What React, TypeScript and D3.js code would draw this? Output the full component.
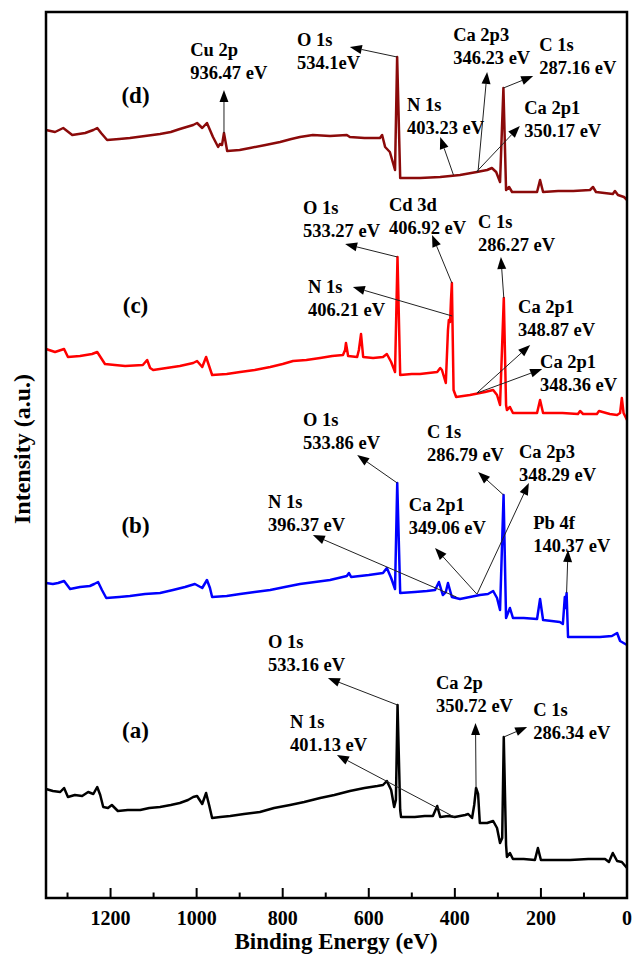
import React from "react";
import * as d3 from "d3";

// XPS survey spectra of four samples, stacked with vertical offsets.
const WIDTH = 634;
const HEIGHT = 955;
const PLOT = { left: 46, right: 627, top: 12, bottom: 898 };

const energyDomain: [number, number] = [1350, 0];
const intensityDomain: [number, number] = [0, 88.6];

const majorTicks = [1200, 1000, 800, 600, 400, 200, 0];
const minorTicks = [1300, 1100, 900, 700, 500, 300, 100];

type Pt = [number, number]; // [binding energy (eV), intensity (a.u., offset)]

const spectrumA: Pt[] = [
  [1350, 10.9], [1334, 10.7], [1317, 10.6], [1308, 11.0], [1299, 10.1], [1283, 10.3],
  [1266, 10.2], [1252, 10.6], [1240, 10.4], [1231, 11.1], [1224, 10.3], [1217, 9.1],
  [1206, 9.0], [1197, 9.3], [1183, 8.7], [1160, 8.8], [1131, 8.8], [1110, 9.0],
  [1085, 9.1], [1060, 9.3], [1039, 9.5], [1020, 9.8], [1008, 10.1], [999, 10.2],
  [987, 9.4], [978, 10.5], [971, 9.3], [964, 8.0], [945, 8.1], [922, 8.2], [890, 8.4],
  [853, 8.6], [820, 9.0], [783, 9.3], [750, 9.6], [713, 10.0], [680, 10.3], [644, 10.7],
  [610, 11.0], [580, 11.2], [567, 11.3], [558, 11.7], [548, 10.8], [541, 9.1],
  [537, 9.8], [533.16, 19.3], [527, 8.8], [525, 8.1], [493, 8.1], [470, 8.2],
  [451, 8.2], [441, 9.2], [434, 8.1], [415, 8.2], [400, 8.1], [376, 8.3], [369, 8.4],
  [360, 8.0], [355, 9.3], [350.72, 11.0], [346, 10.4], [342, 7.5], [325, 7.5],
  [311, 7.7], [302, 7.0], [295, 5.5], [290, 6.0], [286.34, 16.1], [281, 5.3],
  [279, 4.1], [272, 4.5], [265, 3.9], [240, 3.9], [214, 3.8], [207, 5.0], [200, 3.8],
  [170, 3.8], [132, 3.8], [90, 3.9], [51, 3.9], [42, 3.6], [33, 4.5], [23, 3.7],
  [12, 3.6], [0, 3.0],
];

const spectrumB: Pt[] = [
  [1350, 31.5], [1334, 31.4], [1322, 31.5], [1308, 31.7], [1294, 30.9], [1271, 31.1],
  [1248, 31.2], [1238, 31.4], [1229, 31.6], [1220, 30.8], [1210, 30.0], [1180, 30.1],
  [1155, 30.2], [1120, 30.4], [1085, 30.5], [1055, 30.8], [1027, 31.1], [1004, 31.4],
  [987, 31.0], [976, 31.8], [969, 31.0], [964, 30.1], [930, 30.2], [899, 30.4],
  [865, 30.6], [829, 30.8], [795, 31.1], [760, 31.4], [725, 31.6], [690, 31.8],
  [651, 32.2], [646, 32.5], [641, 32.1], [600, 32.3], [567, 32.5], [558, 33.0],
  [548, 32.0], [539, 30.9], [533.86, 41.5], [527, 30.5], [493, 30.6], [465, 30.7],
  [446, 30.8], [437, 31.6], [428, 30.3], [421, 30.6], [416, 31.5], [407, 30.1],
  [388, 29.9], [365, 30.1], [342, 30.3], [323, 30.4], [311, 30.7], [302, 30.0],
  [295, 28.8], [286.79, 40.3], [281, 28.0], [272, 29.0], [265, 28.0], [240, 28.0],
  [209, 27.9], [202, 29.9], [195, 27.8], [175, 27.7], [156, 27.6], [149, 27.4],
  [144.5, 30.1], [143, 29.0], [140.37, 30.5], [137, 26.1], [135, 26.1], [100, 26.1],
  [63, 26.1], [35, 26.2], [23, 26.5], [16, 25.7], [0, 25.3],
];

const spectrumC: Pt[] = [
  [1350, 54.9], [1329, 54.6], [1308, 54.9], [1299, 54.1], [1271, 54.2], [1243, 54.4],
  [1231, 54.6], [1222, 54.0], [1213, 53.4], [1190, 53.3], [1166, 53.2], [1125, 53.3],
  [1115, 53.8], [1108, 53.0], [1101, 52.8], [1070, 53.0], [1039, 53.2], [1008, 53.5],
  [999, 53.7], [987, 53.1], [978, 54.1], [971, 53.2], [964, 52.3], [930, 52.4],
  [899, 52.6], [865, 52.8], [829, 53.1], [800, 53.4], [776, 53.7], [745, 53.8],
  [713, 54.0], [685, 54.2], [660, 54.3], [655, 54.8], [653, 55.5], [648, 54.2],
  [627, 54.1], [623, 54.8], [618, 56.4], [613, 54.1], [590, 54.0], [567, 54.1],
  [558, 54.4], [548, 53.6], [539, 52.6], [533.27, 64.1], [527, 52.3], [500, 52.4],
  [481, 52.4], [441, 52.6], [434, 53.0], [430, 52.8], [421, 51.5], [416, 56.8],
  [414, 57.8], [411, 57.6], [409, 59.8], [406.92, 61.5], [403, 50.8], [397, 50.1],
  [365, 50.3], [330, 50.6], [311, 50.8], [302, 50.3], [295, 49.3], [286.27, 60.0],
  [281, 49.3], [279, 48.8], [272, 49.1], [265, 48.5], [240, 48.5], [209, 48.5],
  [202, 49.8], [195, 48.5], [150, 48.5], [114, 48.4], [109, 48.7], [102, 48.4],
  [70, 48.4], [65, 48.7], [40, 48.4], [23, 48.3], [16, 48.5], [12, 50.0], [8, 48.5],
  [0, 47.8],
];

const spectrumD: Pt[] = [
  [1350, 76.8], [1329, 76.6], [1310, 77.0], [1289, 76.3], [1259, 76.5], [1240, 76.8],
  [1231, 77.0], [1222, 76.5], [1208, 75.8], [1180, 75.9], [1155, 76.0], [1120, 76.2],
  [1085, 76.4], [1060, 76.6], [1039, 76.9], [1008, 77.3], [999, 77.5], [987, 77.0],
  [976, 77.5], [962, 76.1], [950, 75.1], [946, 75.4], [941, 75.3], [936.47, 76.5],
  [929, 74.7], [900, 74.8], [876, 75.0], [840, 75.3], [806, 75.6], [780, 75.9],
  [760, 76.1], [730, 76.3], [690, 76.2], [651, 76.3], [644, 76.1], [610, 76.0],
  [574, 76.0], [569, 76.3], [562, 75.1], [551, 74.6], [539, 72.8], [534.1, 84.1],
  [527, 72.0], [481, 72.0], [434, 72.1], [388, 72.3], [349, 72.6], [325, 72.8],
  [314, 73.0], [304, 72.6], [295, 71.6], [287.16, 81.0], [281, 70.8], [274, 71.1],
  [267, 70.6], [240, 70.6], [209, 70.6], [202, 71.8], [195, 70.6], [160, 70.7],
  [125, 70.7], [86, 70.8], [79, 71.1], [72, 70.6], [33, 70.4], [28, 70.7], [21, 70.3],
  [7, 70.1], [0, 69.8],
];

const spectra = [spectrumA, spectrumB, spectrumC, spectrumD];
const sampleNames = ["(a)", "(b)", "(c)", "(d)"];
const sampleColors = ["#000000", "#0000ff", "#ff0000", "#8b0a0a"];
// Where each sample tag sits, in [eV, a.u.]
const sampleTagAt: Pt[] = [[1142, 16.8], [1142, 37.3], [1142, 59.3], [1142, 80.3]];

// Peak assignments: label text, label anchor, arrow start on the spectrum, arrow tip.
type Peak = { name: string; energy: string; label: Pt; from: Pt; tip: Pt };

const peaksA: Peak[] = [
  { name: "O 1s", energy: "533.16 eV", label: [834, 25.6], from: [533.16, 19.3], tip: [695, 22.0] },
  { name: "N 1s", energy: "401.13 eV", label: [783, 17.6], from: [401.13, 8.1], tip: [674, 14.3] },
  { name: "Ca 2p", energy: "350.72 eV", label: [444, 21.5], from: [350.72, 11.0], tip: [352, 17.5] },
  { name: "C 1s", energy: "286.34 eV", label: [218, 18.8], from: [286.34, 16.1], tip: [232, 17.1] },
];

const peaksB: Peak[] = [
  { name: "O 1s", energy: "533.86 eV", label: [753, 47.8], from: [533.86, 41.5], tip: [627, 44.3] },
  { name: "N 1s", energy: "396.37 eV", label: [834, 39.6], from: [396.37, 30.1], tip: [730, 36.3] },
  { name: "Ca 2p1", energy: "349.06 eV", label: [507, 39.3], from: [349.06, 30.4], tip: [446, 35.0] },
  { name: "Ca 2p3", energy: "348.29 eV", label: [251, 44.6], from: [348.29, 30.4], tip: [228, 41.5] },
  { name: "C 1s", energy: "286.79 eV", label: [465, 46.6], from: [286.79, 40.3], tip: [346, 42.6] },
  { name: "Pb 4f", energy: "140.37 eV", label: [218, 37.5], from: [140.37, 30.5], tip: [137, 34.8] },
];

const peaksC: Peak[] = [
  { name: "O 1s", energy: "533.27 eV", label: [753, 69.0], from: [533.27, 64.1], tip: [655, 65.4] },
  { name: "Cd 3d", energy: "406.92 eV", label: [553, 69.3], from: [406.92, 61.5], tip: [453, 66.3] },
  { name: "N 1s", energy: "406.21 eV", label: [741, 61.1], from: [406.21, 58.2], tip: [637, 61.1] },
  { name: "C 1s", energy: "286.27 eV", label: [346, 67.6], from: [286.27, 60.0], tip: [293, 64.1] },
  { name: "Ca 2p1", energy: "348.87 eV", label: [253, 59.1], from: [348.87, 50.5], tip: [225, 55.3] },
  { name: "Ca 2p1", energy: "348.36 eV", label: [202, 53.6], from: [348.36, 50.5], tip: [197, 52.9] },
];

const peaksD: Peak[] = [
  { name: "Cu 2p", energy: "936.47 eV", label: [1015, 84.8], from: [936.47, 76.5], tip: [936.47, 80.8] },
  { name: "O 1s", energy: "534.1eV", label: [767, 85.8], from: [534.1, 84.1], tip: [644, 85.1] },
  { name: "N 1s", energy: "403.23 eV", label: [511, 79.3], from: [403.23, 72.3], tip: [434, 76.1] },
  { name: "Ca 2p3", energy: "346.23 eV", label: [404, 86.3], from: [346.23, 72.6], tip: [325, 82.6] },
  { name: "Ca 2p1", energy: "350.17 eV", label: [239, 79.0], from: [350.17, 72.6], tip: [249, 77.2] },
  { name: "C 1s", energy: "287.16 eV", label: [204, 85.3], from: [287.16, 81.0], tip: [218, 82.2] },
];

const allPeaks = [...peaksA, ...peaksB, ...peaksC, ...peaksD];

const FONT = "'Liberation Serif', 'Times New Roman', serif";

export default function App() {
  const x = d3.scaleLinear().domain(energyDomain).range([PLOT.left, PLOT.right]);
  const y = d3.scaleLinear().domain(intensityDomain).range([PLOT.bottom, PLOT.top]);
  const line = d3
    .line<Pt>()
    .x((d) => x(d[0]))
    .y((d) => y(d[1]));

  const arrow = (p: Peak, i: number) => {
    const x1 = x(p.from[0]);
    const y1 = y(p.from[1]);
    const x2 = x(p.tip[0]);
    const y2 = y(p.tip[1]);
    const a = Math.atan2(y2 - y1, x2 - x1);
    const len = 12;
    const hw = 4.5;
    const bx = x2 - len * Math.cos(a);
    const by = y2 - len * Math.sin(a);
    const nx = -Math.sin(a);
    const ny = Math.cos(a);
    const head = `${x2},${y2} ${bx + hw * nx},${by + hw * ny} ${bx - hw * nx},${by - hw * ny}`;
    return (
      <g key={`arrow-${i}`}>
        <line x1={x1} y1={y1} x2={bx} y2={by} stroke="#222" strokeWidth={1} />
        <polygon points={head} fill="#000" />
      </g>
    );
  };

  return (
    <svg width={WIDTH} height={HEIGHT} style={{ position: "absolute", left: 0, top: 0 }}>
      <rect x={0} y={0} width={WIDTH} height={HEIGHT} fill="#fff" />

      {spectra.map((s, i) => (
        <path
          key={`spec-${i}`}
          d={line(s) ?? ""}
          fill="none"
          stroke={sampleColors[i]}
          strokeWidth={2.5}
          strokeLinejoin="round"
        />
      ))}

      {allPeaks.map(arrow)}

      {allPeaks.map((p, i) => (
        <text
          key={`lbl-${i}`}
          x={x(p.label[0])}
          y={y(p.label[1]) + 6}
          fontFamily={FONT}
          fontWeight="bold"
          fontSize={18.5}
          fill="#000"
        >
          <tspan x={x(p.label[0])}>{p.name}</tspan>
          <tspan x={x(p.label[0])} dy={23}>
            {p.energy}
          </tspan>
        </text>
      ))}

      {sampleNames.map((n, i) => (
        <text
          key={`tag-${i}`}
          x={x(sampleTagAt[i][0])}
          y={y(sampleTagAt[i][1]) + 7.5}
          textAnchor="middle"
          fontFamily={FONT}
          fontWeight="bold"
          fontSize={23}
        >
          {n}
        </text>
      ))}

      {/* frame */}
      <rect
        x={PLOT.left}
        y={PLOT.top}
        width={PLOT.right - PLOT.left}
        height={PLOT.bottom - PLOT.top}
        fill="none"
        stroke="#000"
        strokeWidth={2.5}
      />

      {/* bottom axis ticks, pointing inward */}
      {majorTicks.map((t) => (
        <line key={`maj-${t}`} x1={x(t)} x2={x(t)} y1={PLOT.bottom} y2={PLOT.bottom - 10} stroke="#000" strokeWidth={2} />
      ))}
      {minorTicks.map((t) => (
        <line key={`min-${t}`} x1={x(t)} x2={x(t)} y1={PLOT.bottom} y2={PLOT.bottom - 5.5} stroke="#000" strokeWidth={2} />
      ))}
      {majorTicks.map((t) => (
        <text
          key={`tl-${t}`}
          x={x(t)}
          y={925}
          textAnchor="middle"
          fontFamily={FONT}
          fontWeight="bold"
          fontSize={20}
        >
          {t}
        </text>
      ))}

      <text x={336} y={949} textAnchor="middle" fontFamily={FONT} fontWeight="bold" fontSize={23}>
        Binding Energy (eV)
      </text>
      <text
        transform="translate(30,449) rotate(-90)"
        textAnchor="middle"
        fontFamily={FONT}
        fontWeight="bold"
        fontSize={24}
      >
        Intensity (a.u.)
      </text>
    </svg>
  );
}
